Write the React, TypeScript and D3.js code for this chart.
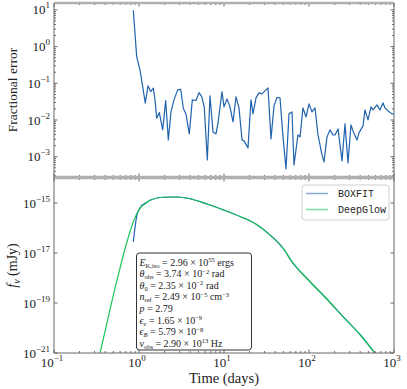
import * as d3 from 'd3';

// fractional error panel (days, |Δf|/f)
const errTime = [0.857, 0.939, 1.027, 1.105, 1.186, 1.276, 1.373, 1.473, 1.543, 1.615, 1.733, 1.9, 2.061, 2.212, 2.38, 2.581, 2.853, 3.094, 3.32, 3.572, 3.906, 4.238, 4.684, 5.08, 5.466, 5.865, 6.362, 6.843, 7.42, 8.05, 8.5, 9.47, 10.0, 10.85, 11.77, 12.76, 13.84, 15.02, 16.29, 17.19, 19.16, 20.78, 21.94, 23.8, 25.81, 28.0, 30.37, 32.94, 35.72, 38.75, 42.03, 45.59, 49.44, 53.63, 58.17, 63.1, 66.6, 74.2, 78.4, 85.0, 92.2, 100, 108.5, 117.7, 127.6, 142.2, 150.2, 162.9, 176.6, 191.6, 202.3, 219.4, 244.5, 265.2, 287.6, 311.9, 329.4, 367.0, 387.3, 431.9, 455.9, 494.4, 536.3, 566.2, 631.0, 684.4, 742.3, 783.8, 850.2, 947.3, 1000];
const errValue = [9.8, 0.534, 0.232, 0.0813, 0.0287, 0.085, 0.0594, 0.0735, 0.0353, 0.0112, 0.0159, 0.00537, 0.0338, 0.00287, 0.0169, 0.0353, 0.0661, 0.069, 0.021, 0.0144, 0.00418, 0.0353, 0.034, 0.0558, 0.0434, 0.0223, 0.000818, 0.0454, 0.00474, 0.00418, 0.00834, 0.0583, 0.0228, 0.0376, 0.0225, 0.00888, 0.0426, 0.0213, 0.00287, 0.0027, 0.00174, 0.0353, 0.0147, 0.04, 0.0548, 0.0514, 0.0621, 0.075, 0.00306, 0.0242, 0.041, 0.04, 0.00347, 0.000465, 0.0147, 0.0166, 0.000598, 0.00393, 0.00347, 0.0213, 0.0121, 0.0275, 0.0166, 0.0213, 0.00393, 0.00112, 0.000722, 0.00347, 0.00537, 0.00393, 0.0039, 0.00572, 0.000769, 0.00783, 0.000678, 0.00735, 0.00505, 0.00287, 0.00445, 0.0069, 0.0188, 0.0101, 0.0228, 0.0188, 0.0258, 0.0188, 0.0292, 0.0213, 0.0177, 0.0147, 0.0147];

// light curves (days, mJy)
const boxfitTime = [0.857, 0.939, 1.027, 1.18, 1.35, 1.92, 2.8, 3.98, 6.31, 9.73, 15.4, 24.4, 34.8, 49.5, 64.9, 103, 163, 258, 398, 597];
const boxfitFlux = [2.8e-17, 2.9e-16, 6.3e-16, 9.8e-16, 1.29e-15, 1.7e-15, 1.74e-15, 1.48e-15, 9.1e-16, 5.4e-16, 2.9e-16, 1.36e-16, 5.3e-17, 1.55e-17, 3.9e-18, 7.1e-19, 1.41e-19, 2.6e-20, 5.5e-21, 9.8e-22];
const deepglowTime = [0.348, 0.398, 0.456, 0.522, 0.598, 0.684, 0.784, 0.897, 1.027, 1.209, 1.347, 1.916, 2.8, 3.98, 6.31, 9.73, 15.4, 24.4, 34.8, 49.5, 64.9, 103, 163, 258, 398, 597];
const deepglowFlux = [1.0e-21, 7.2e-21, 5.6e-20, 3.9e-19, 2.5e-18, 1.45e-17, 7.1e-17, 2.57e-16, 6.2e-16, 9.8e-16, 1.29e-15, 1.7e-15, 1.74e-15, 1.48e-15, 9.1e-16, 5.4e-16, 2.9e-16, 1.35e-16, 5.2e-17, 1.55e-17, 3.9e-18, 7.1e-19, 1.41e-19, 2.6e-20, 5.5e-21, 9.8e-22];

const seriesNames = ['BOXFIT', 'DeepGlow'];
const seriesColors = ['#1f63ad', '#1cc25a'];
const legendColors = ['#8aaad3', '#7fdc9f'];

const xExps = [-1, 0, 1, 2, 3];
const errExps = [-3, -2, -1, 0, 1];
const fluxExps = [-21, -19, -17, -15];

type Seg = { t: string; i?: boolean; s?: 'sub' | 'sup' };
const paramLines: Seg[][] = [
  [{ t: 'E', i: true }, { t: 'K,iso', s: 'sub' }, { t: ' = 2.96 × 10' }, { t: '55', s: 'sup' }, { t: ' ergs' }],
  [{ t: 'θ', i: true }, { t: 'obs', s: 'sub' }, { t: ' = 3.74 × 10' }, { t: '−2', s: 'sup' }, { t: ' rad' }],
  [{ t: 'θ', i: true }, { t: '0', s: 'sub' }, { t: ' = 2.35 × 10' }, { t: '−2', s: 'sup' }, { t: ' rad' }],
  [{ t: 'n', i: true }, { t: 'ref', s: 'sub' }, { t: ' = 2.49 × 10' }, { t: '−5', s: 'sup' }, { t: ' cm' }, { t: '−3', s: 'sup' }],
  [{ t: 'p', i: true }, { t: ' = 2.79' }],
  [{ t: 'ϵ', i: true }, { t: 'e', s: 'sub', i: true }, { t: ' = 1.65 × 10' }, { t: '−9', s: 'sup' }],
  [{ t: 'ϵ', i: true }, { t: 'B', s: 'sub', i: true }, { t: ' = 5.79 × 10' }, { t: '−8', s: 'sup' }],
  [{ t: 'ν', i: true }, { t: 'obs', s: 'sub' }, { t: ' = 2.90 × 10' }, { t: '13', s: 'sup' }, { t: ' Hz' }],
];

const SERIF = "'Liberation Serif', 'DejaVu Serif', serif";
const MONO = "'Liberation Mono', 'DejaVu Sans Mono', monospace";
const serif = { fontFamily: SERIF };

const L = 54, R = 394;
const topP = { y0: 3, y1: 177 };
const botP = { y0: 178, y1: 353 };

const x = d3.scaleLog().domain([0.1, 1000]).range([L, R]);
const yErr = d3.scaleLog().domain([2.8e-4, 15.4]).range([topP.y1, topP.y0]);
const yFlux = d3.scaleLog().domain([1e-21, 1e-14]).range([botP.y1, botP.y0]);

const isMajor = (v: number) => Math.abs(Math.log10(v) - Math.round(Math.log10(v))) < 1e-6;

function richText(segs: Seg[], size: number) {
  let shift = 0;
  return segs.map((s, k) => {
    const target = s.s === 'sub' ? size * 0.2 : s.s === 'sup' ? -size * 0.34 : 0;
    const dy = target - shift;
    shift = target;
    return (
      <tspan key={k} dy={dy} fontStyle={s.i ? 'italic' : 'normal'} fontSize={s.s ? size * 0.65 : size}>
        {s.t}
      </tspan>
    );
  });
}

function Pow({ e, x: px, y: py, anchor }: { e: number; x: number; y: number; anchor: string }) {
  return (
    <text x={px} y={py} textAnchor={anchor} style={serif} fontSize={13} fill="#222">
      10<tspan dy={-6} fontSize={9}>{e < 0 ? `−${-e}` : e}</tspan>
    </text>
  );
}

function XTicks({ y0, y1 }: { y0: number; y1: number }) {
  const ticks = x.ticks();
  return (
    <g stroke="#444" strokeWidth={0.8}>
      {ticks.map((t, i) => {
        const len = isMajor(t) ? 3.5 : 2;
        const px = x(t);
        return (
          <g key={i}>
            <line x1={px} x2={px} y1={y1} y2={y1 - len} />
            <line x1={px} x2={px} y1={y0} y2={y0 + len} />
          </g>
        );
      })}
    </g>
  );
}

function YTicks({ scale, values }: { scale: d3.ScaleLogarithmic<number, number>; values: number[] }) {
  return (
    <g stroke="#444" strokeWidth={0.8}>
      {values.map((t, i) => {
        const len = isMajor(t) ? 3.5 : 2;
        const py = scale(t);
        return (
          <g key={i}>
            <line x1={L} x2={L + len} y1={py} y2={py} />
            <line x1={R} x2={R - len} y1={py} y2={py} />
          </g>
        );
      })}
    </g>
  );
}

export default function App() {
  const errLine = d3.line<number>()
    .x((_, i) => x(errTime[i]))
    .y((d) => yErr(d));

  const fluxLine = (times: number[]) => d3.line<number>()
    .x((_, i) => x(times[i]))
    .y((d) => yFlux(d))
    .curve(d3.curveMonotoneX);

  const errMinor = yErr.ticks().filter((t) => t >= 2.8e-4 && t <= 15.4);
  const fluxMajor = fluxExps.map((e) => Math.pow(10, e));

  const boxX = 136.5, boxY = 253, boxW = 115, boxH = 97;

  return (
    <svg width={407} height={389} style={{ position: 'absolute', left: 0, top: 0, background: '#fff' }}>
      <defs>
        <clipPath id="clipTop"><rect x={L} y={topP.y0} width={R - L} height={topP.y1 - topP.y0} /></clipPath>
        <clipPath id="clipBot"><rect x={L} y={botP.y0} width={R - L} height={botP.y1 - botP.y0} /></clipPath>
      </defs>

      {/* top panel */}
      <g clipPath="url(#clipTop)">
        <path d={errLine(errValue) || ''} fill="none" stroke={seriesColors[0]} strokeWidth={1.2} strokeLinejoin="round" />
      </g>
      <XTicks y0={topP.y0} y1={topP.y1} />
      <YTicks scale={yErr} values={errMinor} />
      {errExps.map((e) => (
        <Pow key={e} e={e} x={50} y={yErr(Math.pow(10, e)) + 4.5} anchor="end" />
      ))}
      <text transform={`translate(17,${(topP.y0 + topP.y1) / 2}) rotate(-90)`} textAnchor="middle"
        style={serif} fontSize={13.5} fill="#222">Fractional error</text>

      {/* bottom panel */}
      <g clipPath="url(#clipBot)">
        <path d={fluxLine(boxfitTime)(boxfitFlux) || ''} fill="none" stroke={seriesColors[0]} strokeWidth={1.2} />
        <path d={fluxLine(deepglowTime)(deepglowFlux) || ''} fill="none" stroke={seriesColors[1]} strokeWidth={1.2} />
      </g>
      <XTicks y0={botP.y0} y1={botP.y1} />
      <YTicks scale={yFlux} values={fluxMajor} />
      {fluxExps.map((e) => (
        <Pow key={e} e={e} x={50} y={yFlux(Math.pow(10, e)) + 4.5} anchor="end" />
      ))}
      {xExps.map((e) => (
        <Pow key={e} e={e} x={x(Math.pow(10, e)) - 2} y={367} anchor="middle" />
      ))}
      <text x={(L + R) / 2} y={383} textAnchor="middle" style={serif} fontSize={14.5} fill="#222">Time (days)</text>
      <text transform={`translate(17,${(botP.y0 + botP.y1) / 2}) rotate(-90)`} textAnchor="middle"
        style={serif} fontSize={14} fill="#222">
        <tspan fontStyle="italic">f</tspan><tspan dy={3} fontSize={10} fontStyle="italic">ν</tspan><tspan dy={-3}> (mJy)</tspan>
      </text>

      {/* spines */}
      <g fill="none">
        <line x1={L} x2={R} y1={topP.y0} y2={topP.y0} stroke="#b0b0b0" strokeWidth={2.5} />
        <line x1={L} x2={R} y1={topP.y1} y2={topP.y1} stroke="#b0b0b0" strokeWidth={2.5} />
        <line x1={L} x2={R} y1={botP.y0} y2={botP.y0} stroke="#b0b0b0" strokeWidth={2.5} />
        <line x1={L} x2={R} y1={botP.y1} y2={botP.y1} stroke="#666" strokeWidth={1} />
        <line x1={L} x2={L} y1={topP.y0} y2={botP.y1} stroke="#666" strokeWidth={1} />
        <line x1={R} x2={R} y1={topP.y0} y2={botP.y1} stroke="#666" strokeWidth={1} />
      </g>

      {/* legend */}
      <rect x={302} y={185} width={87} height={35} rx={3} fill="#fff" fillOpacity={0.85} stroke="#d0d0d0" strokeWidth={1} />
      {seriesNames.map((n, i) => (
        <g key={n}>
          <line x1={306} x2={328} y1={193.5 + i * 16} y2={193.5 + i * 16} stroke={legendColors[i]} strokeWidth={1.5} />
          <text x={338} y={197 + i * 16} style={{ fontFamily: MONO }} fontSize={10} fill="#222">{n}</text>
        </g>
      ))}

      {/* parameter box */}
      <rect x={boxX} y={boxY} width={boxW} height={boxH} rx={3} fill="#fff" stroke="#333" strokeWidth={1} />
      {paramLines.map((segs, i) => (
        <text key={i} x={139.5} y={265.5 + i * 11.6} style={serif} fontSize={10} fill="#222">
          {richText(segs, 10)}
        </text>
      ))}
    </svg>
  );
}
